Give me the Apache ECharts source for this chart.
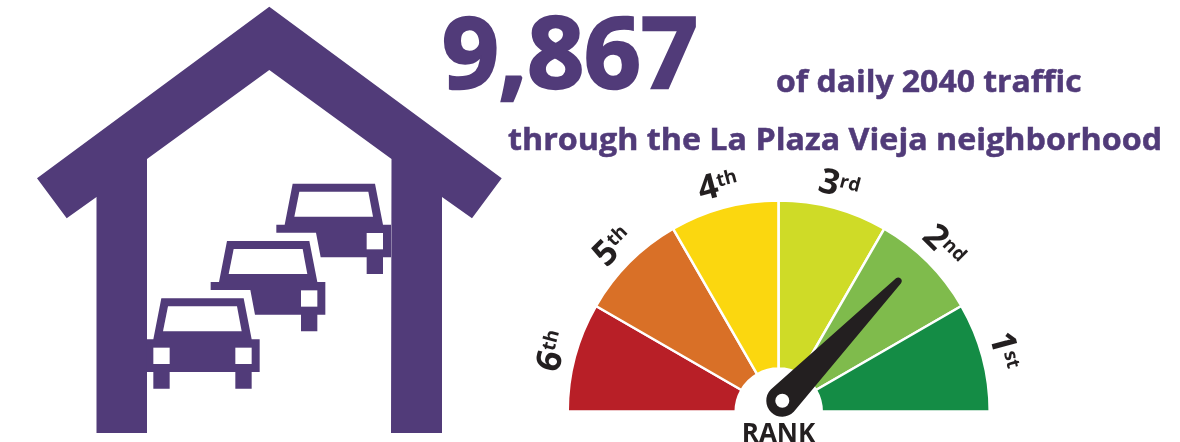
<!DOCTYPE html>
<html>
<head>
<meta charset="utf-8">
<title>La Plaza Vieja traffic rank</title>
<script src="https://cdn.jsdelivr.net/npm/echarts@6/dist/echarts.min.js"></script>
<style>
  html, body { margin: 0; padding: 0; background: #fff; }
  #chart { width: 1180px; height: 442px; }
</style>
</head>
<body>
<div id="chart"></div>
<script>
// values
const rankLabels = ['6th', '5th', '4th', '3rd', '2nd', '1st'];
const rankShares = [1, 1, 1, 1, 1, 1];
const rankColors = ['#B81F27', '#D97027', '#FBD70F', '#CFDB27', '#7FBB4C', '#148C45'];
const needleValue = 4.47; // 0 = far left of the dial, 6 = far right
const trafficCount = '9,867';
const captionTop = 'of daily 2040 traffic';
const captionBottom = 'through the La Plaza Vieja neighborhood';
const dialTitle = 'RANK';

const PURPLE = '#513B79';
const DARK = '#231F20';
const HEADING_FONT = '"Open Sans", "Noto Sans", sans-serif';

const housePoints = [
    [269.3, 6.7], [501.7, 178.3], [472, 218.3], [442, 197], [442, 433], [391, 433],
    [391.5, 159], [269.3, 70], [147, 159], [147, 433], [96.5, 433], [96.5, 197],
    [66.7, 218.3], [37, 178.3]
];

// car outlines in 3x crop pixels, converted by toPage below
const frontCar = [[64, 385], [311, 385], [335, 508], [359, 508], [359, 606], [335, 606], [335, 656],
    [286, 656], [286, 606], [89, 606], [89, 656], [40, 656], [40, 606], [20, 606], [20, 508], [40, 508]];
const rearCar = [[261, 213], [508, 213], [532, 336], [556, 336], [556, 434], [532, 434], [532, 484],
    [483, 484], [483, 434], [345, 434], [331, 360], [212, 360], [212, 336], [237, 336]];
const rearWindow = [[281, 237], [488, 237], [502, 312], [266, 312]];
const rearLight = [[483, 361], [532, 361], [532, 410], [483, 410]];

function toPage(points, shiftX, shiftY) {
    return points.map(p => [140 + (p[0] + shiftX) / 3, 170 + (p[1] + shiftY) / 3]);
}

function poly(points, fill) {
    return { type: 'polygon', silent: true, shape: { points: points }, style: { fill: fill } };
}

function textItem(text, x, y, fontSize, scaleX, strokeWidth) {
    return {
        type: 'text', silent: true, x: x, y: y, scaleX: scaleX,
        style: {
            text: text, fill: PURPLE, stroke: PURPLE, lineWidth: strokeWidth,
            fontFamily: HEADING_FONT, fontWeight: 'bold', fontSize: fontSize,
            verticalAlign: 'middle'
        }
    };
}

function buildIcon() {
    const items = [poly(housePoints, PURPLE)];
    // front car
    items.push(poly(toPage(frontCar, 0, 0), PURPLE));
    items.push(poly(toPage(rearWindow, -197, 172), '#fff'));
    items.push(poly(toPage(rearLight, -197, 172), '#fff'));
    items.push(poly(toPage(rearLight, -443, 172), '#fff'));
    // the two cars behind it
    [[0, 0], [197, -172]].forEach(s => {
        items.push(poly(toPage(rearCar, s[0], s[1]), PURPLE));
        items.push(poly(toPage(rearWindow, s[0], s[1]), '#fff'));
        items.push(poly(toPage(rearLight, s[0], s[1]), '#fff'));
    });
    return items;
}

const chart = echarts.init(document.getElementById('chart'));

const option = {
    animation: false,
    backgroundColor: '#fff',
    graphic: {
        elements: buildIcon().concat([
            textItem(trafficCount, 442, 60, 98, 1.015, 2.5),
            textItem(captionTop, 776, 83, 31, 1.03, 0.5),
            textItem(captionBottom, 508, 141, 31, 1.04, 0.5),
            {
                type: 'text', silent: true, x: 778.5, y: 435,
                style: {
                    text: dialTitle, fill: DARK, fontFamily: HEADING_FONT, fontWeight: 'bold', fontSize: 26,
                    align: 'center', verticalAlign: 'middle'
                }
            }
        ])
    },
    series: [
        {
            type: 'pie',
            silent: true,
            center: [778.7, 411.5],
            radius: [43, 211],
            startAngle: 180,
            endAngle: 0,
            label: { show: false },
            labelLine: { show: false },
            itemStyle: { borderColor: '#fff', borderWidth: 2.5 },
            data: rankLabels.map((name, i) => ({
                name: name, value: rankShares[i], itemStyle: { color: rankColors[i] }
            }))
        },
        {
            // invisible ring that only carries the rank labels
            type: 'pie',
            silent: true,
            center: [778.7, 411.5],
            radius: [208, 252],
            startAngle: 180,
            endAngle: 0,
            avoidLabelOverlap: false,
            itemStyle: { color: 'transparent' },
            labelLine: { show: false },
            label: {
                show: true,
                position: 'inside',
                rotate: 'tangential',
                color: DARK,
                formatter: p => '{n|' + p.name.charAt(0) + '}{o|' + p.name.slice(1) + '}',
                rich: {
                    n: { fontFamily: HEADING_FONT, fontWeight: 'bold', fontSize: 35, color: DARK },
                    o: { fontFamily: HEADING_FONT, fontWeight: 'bold', fontSize: 19, color: DARK, padding: [0, 0, 10, 0] }
                }
            },
            data: rankLabels.map((name, i) => ({ name: name, value: rankShares[i] }))
        },
        {
            type: 'gauge',
            z: 5,
            center: [782.3, 400.7],
            radius: 186,
            startAngle: 180,
            endAngle: 0,
            min: 0,
            max: 6,
            silent: true,
            axisLine: { show: false },
            axisTick: { show: false },
            splitLine: { show: false },
            axisLabel: { show: false },
            title: { show: false },
            detail: { show: false },
            pointer: {
                icon: 'path://M16,0 Q19,0 19.5,3 L32,170 A16,16 0 0 1 0,170 L12.5,3 Q13,0 16,0 Z',
                length: 186,
                width: 32,
                offsetCenter: [0, 16],
                keepAspect: false,
                itemStyle: { color: DARK }
            },
            anchor: { show: true, showAbove: true, size: 14, itemStyle: { color: '#fff' } },
            data: [{ value: needleValue }]
        }
    ]
};

chart.setOption(option);
</script>
</body>
</html>
